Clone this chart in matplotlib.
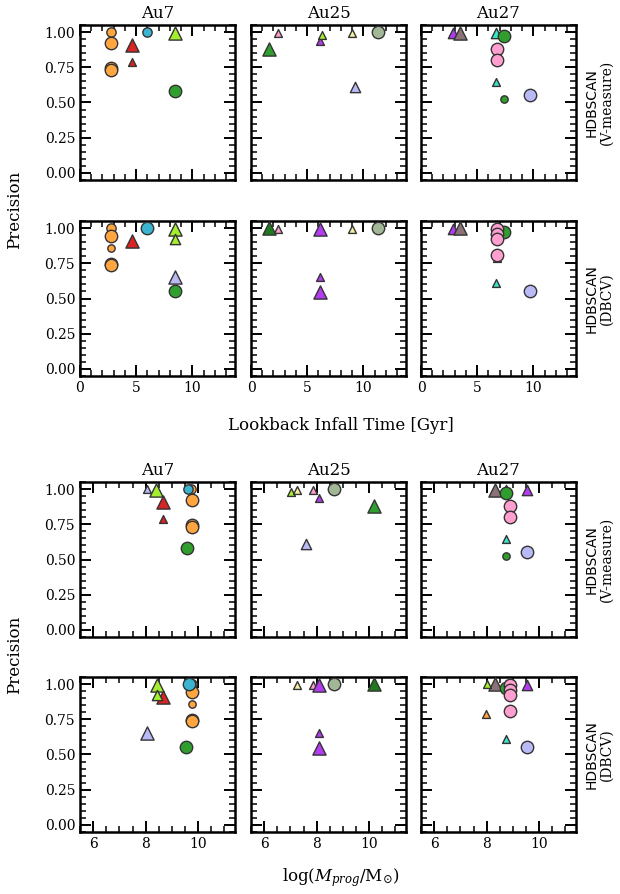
import matplotlib
matplotlib.use("Agg")
import matplotlib.pyplot as plt
from matplotlib.ticker import MultipleLocator, FormatStrFormatter

plt.rcParams['font.family'] = ['DejaVu Serif']
plt.rcParams['mathtext.fontset'] = 'dejavuserif'

halos = ['Au7', 'Au25', 'Au27']
methods = ['V-measure', 'DBCV']

C = {'orange': '#ffa640', 'red': '#d82424', 'cyan': '#3ab4d0', 'lime': '#a4ee30',
     'green': '#2f9e2f', 'lav': '#b9b9f6', 'pink': '#ff9fcf', 'turq': '#36e6c6',
     'purple': '#b23cf0', 'brown': '#8a7276', 'sage': '#a2b796', 'yellow': '#f5f0a2',
     'dgreen': '#1f7a1f'}

# ---- Au7, V-measure ----
au7_v_time = [8.5, 2.8, 2.8, 2.8, 2.8, 4.6, 4.6, 6.0, 8.5, 8.5]
au7_v_mass = [8.05, 9.72, 9.75, 9.75, 9.75, 8.66, 8.66, 9.62, 8.40, 9.58]
au7_v_prec = [1.00, 1.00, 0.92, 0.745, 0.73, 0.91, 0.785, 1.00, 0.99, 0.58]
au7_v_col = ['lav', 'orange', 'orange', 'orange', 'orange', 'red', 'red', 'cyan', 'lime', 'green']
au7_v_mk = ['^', 'o', 'o', 'o', 'o', '^', '^', 'o', '^', 'o']
au7_v_sz = ['S', 'M', 'L', 'L', 'L', 'L', 'S', 'M', 'L', 'L']

# ---- Au7, DBCV ----
au7_d_time = [2.8, 2.8, 2.8, 2.8, 2.8, 4.6, 6.0, 8.5, 8.5, 8.5, 8.5]
au7_d_mass = [9.75, 9.75, 9.75, 9.75, 9.75, 8.66, 9.66, 8.42, 8.42, 8.05, 9.55]
au7_d_prec = [1.00, 0.945, 0.855, 0.745, 0.735, 0.91, 1.00, 0.99, 0.92, 0.655, 0.555]
au7_d_col = ['orange', 'orange', 'orange', 'orange', 'orange', 'red', 'cyan', 'lime', 'lime', 'lav', 'green']
au7_d_mk = ['o', 'o', 'o', 'o', 'o', '^', 'o', '^', '^', '^', 'o']
au7_d_sz = ['M', 'L', 'S', 'L', 'L', 'L', 'L', 'L', 'M', 'L', 'L']

# ---- Au25, V-measure ----
au25_v_time = [1.63, 2.44, 6.16, 6.34, 9.0, 9.3, 11.28]
au25_v_mass = [10.2, 7.87, 8.10, 7.02, 7.25, 7.60, 8.65]
au25_v_prec = [0.88, 0.99, 0.94, 0.98, 0.99, 0.61, 1.00]
au25_v_col = ['green', 'pink', 'purple', 'lime', 'yellow', 'lav', 'sage']
au25_v_mk = ['^', '^', '^', '^', '^', '^', 'o']
au25_v_sz = ['L', 'S', 'S', 'S', 'S', 'M', 'L']

# ---- Au25, DBCV ----
au25_d_time = [1.63, 2.44, 6.16, 6.16, 6.16, 9.0, 11.28]
au25_d_mass = [10.2, 7.87, 8.10, 8.10, 8.10, 7.25, 8.65]
au25_d_prec = [1.00, 0.99, 0.99, 0.65, 0.545, 0.99, 1.00]
au25_d_col = ['dgreen', 'pink', 'purple', 'purple', 'purple', 'yellow', 'sage']
au25_d_mk = ['^', '^', '^', '^', '^', '^', 'o']
au25_d_sz = ['L', 'S', 'L', 'S', 'L', 'S', 'L']

# ---- Au27, V-measure ----
au27_v_time = [2.88, 3.48, 6.7, 7.35, 6.8, 6.8, 6.7, 7.35, 9.67]
au27_v_mass = [9.52, 8.30, 8.72, 8.75, 8.90, 8.90, 8.72, 8.75, 9.55]
au27_v_prec = [0.99, 0.995, 0.99, 0.97, 0.878, 0.80, 0.645, 0.527, 0.55]
au27_v_col = ['purple', 'brown', 'turq', 'green', 'pink', 'pink', 'turq', 'green', 'lav']
au27_v_mk = ['^', '^', '^', 'o', 'o', 'o', '^', 'o', 'o']
au27_v_sz = ['M', 'L', 'M', 'L', 'L', 'L', 'S', 'S', 'L']

# ---- Au27, DBCV ----
au27_d_time = [2.88, 3.48, 6.75, 6.8, 6.7, 7.35, 6.8, 6.8, 6.8, 6.8, 6.7, 9.67]
au27_d_mass = [9.52, 8.30, 8.02, 7.97, 8.72, 8.75, 8.90, 8.90, 8.90, 8.90, 8.72, 9.55]
au27_d_prec = [0.995, 1.00, 1.00, 0.785, 0.99, 0.97, 0.99, 0.96, 0.92, 0.81, 0.61, 0.555]
au27_d_col = ['purple', 'brown', 'lime', 'orange', 'turq', 'green', 'pink', 'pink', 'pink', 'pink', 'turq', 'lav']
au27_d_mk = ['^', '^', '^', '^', '^', 'o', 'o', 'o', 'o', 'o', '^', 'o']
au27_d_sz = ['M', 'L', 'S', 'S', 'M', 'L', 'L', 'L', 'L', 'L', 'S', 'L']

data = {
    ('Au7', 'V-measure'): (au7_v_time, au7_v_mass, au7_v_prec, au7_v_col, au7_v_mk, au7_v_sz),
    ('Au7', 'DBCV'): (au7_d_time, au7_d_mass, au7_d_prec, au7_d_col, au7_d_mk, au7_d_sz),
    ('Au25', 'V-measure'): (au25_v_time, au25_v_mass, au25_v_prec, au25_v_col, au25_v_mk, au25_v_sz),
    ('Au25', 'DBCV'): (au25_d_time, au25_d_mass, au25_d_prec, au25_d_col, au25_d_mk, au25_d_sz),
    ('Au27', 'V-measure'): (au27_v_time, au27_v_mass, au27_v_prec, au27_v_col, au27_v_mk, au27_v_sz),
    ('Au27', 'DBCV'): (au27_d_time, au27_d_mass, au27_d_prec, au27_d_col, au27_d_mk, au27_d_sz),
}

SIZES = {'o': {'S': 28, 'M': 45, 'L': 80}, '^': {'S': 32, 'M': 55, 'L': 90}}

W, H = 620, 894
fig = plt.figure(figsize=(W / 100, H / 100), dpi=100)

col_left = [80, 251, 421]
row_top = [[25, 221], [482, 677]]
aw = ah = 155


def style_axes(ax, which):
    ax.set_ylim(-0.05, 1.05)
    ax.yaxis.set_major_locator(MultipleLocator(0.25))
    ax.yaxis.set_minor_locator(MultipleLocator(0.05))
    ax.yaxis.set_major_formatter(FormatStrFormatter('%.2f'))
    if which == 'time':
        ax.set_xlim(0, 13.8)
        ax.xaxis.set_major_locator(MultipleLocator(5))
        ax.xaxis.set_minor_locator(MultipleLocator(1))
    else:
        ax.set_xlim(5.5, 11.4)
        ax.xaxis.set_major_locator(MultipleLocator(2))
        ax.xaxis.set_minor_locator(MultipleLocator(0.5))
    ax.tick_params(which='both', direction='in', top=True, right=True, labelsize=10)
    ax.tick_params(which='major', length=8, width=1.4)
    ax.tick_params(which='minor', length=4.5, width=1.1)
    for s in ax.spines.values():
        s.set_linewidth(1.8)


for b, which in enumerate(['time', 'mass']):
    for r, meth in enumerate(methods):
        for c, halo in enumerate(halos):
            top = row_top[b][r]
            ax = fig.add_axes([col_left[c] / W, 1 - (top + ah) / H, aw / W, ah / H])
            style_axes(ax, which)
            t, m, p, cols, mks, szs = data[(halo, meth)]
            xs = t if which == 'time' else m
            for xi, pi, ci, mi, si in zip(xs, p, cols, mks, szs):
                ax.scatter([xi], [pi], s=SIZES[mi][si], c=C[ci], marker=mi,
                           edgecolors='#333333', linewidths=1.0, zorder=3, clip_on=False)
            if r == 0:
                ax.set_title(halo, fontsize=12, pad=5)
            if c != 0:
                ax.set_yticklabels([])
            if r == 0:
                ax.set_xticklabels([])
            if c == 2:
                cy = 1 - (top + ah / 2) / H
                fig.text(592 / W, cy, 'HDBSCAN', rotation=90, ha='center', va='center',
                         fontsize=10, family='DejaVu Sans')
                fig.text(607 / W, cy, '(' + meth + ')', rotation=90, ha='center',
                         va='center', fontsize=10)

fig.text(15 / W, 1 - 210 / H, 'Precision', rotation=90, ha='center', va='center', fontsize=12)
fig.text(15 / W, 1 - 655 / H, 'Precision', rotation=90, ha='center', va='center', fontsize=12)
fig.text(341 / W, 1 - 425 / H, 'Lookback Infall Time [Gyr]', ha='center', va='center', fontsize=12)
fig.text(341 / W, 1 - 878 / H, r'log($M_{prog}$/M$_{\odot}$)', ha='center', va='center', fontsize=12)

fig.savefig('out.png', dpi=100)
